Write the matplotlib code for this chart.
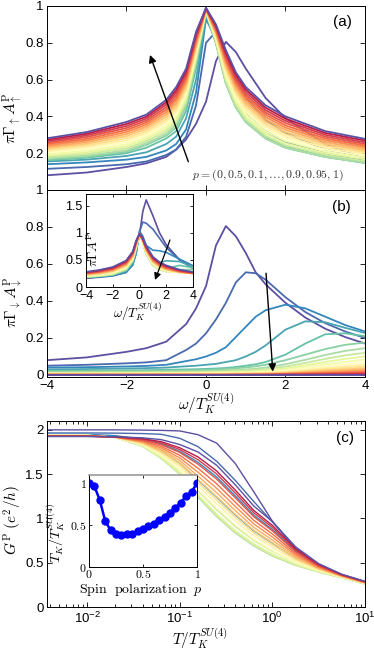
import numpy as np
import matplotlib
matplotlib.use('Agg')
import matplotlib.pyplot as plt

plt.rcParams['font.family'] = ['Liberation Sans', 'DejaVu Sans']
plt.rcParams['mathtext.fontset'] = 'cm'

# spin polarizations
P = [0, 0.05, 0.1, 0.15, 0.2, 0.25, 0.3, 0.35, 0.4, 0.45, 0.5,
     0.55, 0.6, 0.65, 0.7, 0.75, 0.8, 0.85, 0.9, 0.95, 1]

# ---- panel (a): spin-up spectral function ----
W_A = [-4, -3, -2, -1.5, -1, -0.75, -0.5, -0.25, 0, 0.25, 0.5, 0.75, 1, 1.5, 2, 3, 4]
A_UP = [
    [.08, .095, .125, .145, .18, .22, .275, .36, .48, .70, .805, .75, .66, .50, .39, .25, .17],
    [.115, .125, .14, .155, .19, .22, .29, .46, .80, .86, .72, .60, .50, .38, .31, .22, .18],
    [.14, .15, .165, .18, .215, .25, .33, .53, .93, .82, .62, .50, .42, .32, .26, .20, .16],
    [.155, .165, .185, .205, .25, .29, .39, .60, .95, .80, .59, .46, .38, .29, .24, .185, .15],
    [.162, .175, .2, .23, .28, .32, .43, .66, .96, .80, .58, .45, .37, .28, .23, .18, .147],
    [.167, .18, .208, .245, .295, .34, .455, .69, .965, .80, .58, .45, .37, .28, .23, .18, .148],
    [.172, .187, .215, .255, .305, .355, .47, .70, .97, .80, .58, .45, .37, .28, .23, .18, .148],
    [.180, .196, .226, .266, .318, .370, .483, .711, .971, .807, .593, .463, .383, .293, .242, .190, .157],
    [.188, .205, .237, .277, .331, .384, .497, .723, .973, .814, .606, .477, .397, .306, .254, .200, .167],
    [.195, .214, .248, .288, .345, .399, .511, .734, .974, .821, .619, .491, .411, .319, .266, .210, .176],
    [.203, .224, .259, .299, .358, .414, .524, .746, .976, .829, .631, .504, .424, .331, .279, .220, .185],
    [.211, .233, .270, .310, .371, .428, .538, .757, .977, .836, .644, .518, .438, .344, .291, .230, .194],
    [.219, .242, .281, .321, .384, .443, .552, .769, .979, .843, .657, .532, .452, .357, .303, .240, .204],
    [.227, .251, .293, .333, .398, .458, .565, .780, .980, .850, .670, .545, .465, .370, .315, .250, .213],
    [.234, .260, .304, .344, .411, .472, .578, .791, .981, .857, .683, .558, .478, .383, .327, .260, .222],
    [.242, .269, .315, .355, .424, .487, .592, .803, .983, .864, .696, .572, .492, .396, .339, .270, .232],
    [.250, .278, .326, .366, .437, .501, .606, .814, .984, .871, .709, .586, .506, .409, .351, .280, .241],
    [.258, .288, .337, .377, .450, .516, .619, .826, .986, .879, .721, .599, .519, .421, .364, .290, .250],
    [.265, .297, .348, .388, .464, .531, .633, .837, .987, .886, .734, .613, .533, .434, .376, .300, .259],
    [.273, .306, .359, .399, .477, .545, .647, .849, .989, .893, .747, .627, .547, .447, .388, .310, .269],
    [.281, .315, .37, .41, .49, .56, .66, .86, .99, .90, .76, .64, .56, .46, .40, .32, .278],
]

# ---- panel (b): spin-down spectral function ----
W_B = [-4, -3, -2, -1.5, -1, -0.5, -0.25, 0, 0.25, 0.5, 0.75, 1, 1.25, 1.5, 2, 2.5, 3, 3.5, 4]
A_DN = [
    [.08, .095, .125, .145, .18, .275, .36, .48, .70, .805, .75, .66, .555, .49, .39, .31, .25, .205, .17],
    [.05, .055, .063, .068, .08, .135, .17, .225, .30, .39, .50, .555, .55, .515, .42, .34, .28, .235, .20],
    [.04, .042, .046, .049, .055, .075, .085, .10, .12, .15, .205, .26, .315, .35, .38, .36, .315, .27, .235],
    [.03, .032, .035, .037, .04, .047, .05, .055, .06, .07, .08, .10, .125, .16, .245, .29, .285, .255, .227],
    [.022, .023, .025, .026, .028, .03, .031, .033, .035, .038, .043, .05, .058, .07, .11, .17, .22, .225, .21],
    [.018, .019, .02, .021, .022, .024, .025, .027, .029, .032, .036, .041, .047, .055, .08, .11, .14, .163, .175],
    [.014, .015, .016, .017, .018, .019, .02, .021, .022, .024, .027, .03, .034, .04, .058, .082, .108, .13, .145],
    [.011, .012, .013, .013, .014, .015, .016, .017, .018, .019, .021, .024, .027, .031, .045, .065, .087, .106, .12],
    [.009, .009, .01, .01, .011, .012, .012, .013, .014, .015, .016, .018, .021, .024, .035, .052, .07, .087, .10],
    [.007, .007, .008, .008, .009, .009, .01, .01, .011, .012, .013, .014, .016, .019, .028, .042, .057, .071, .083],
    [.006, .006, .006, .007, .007, .007, .008, .008, .009, .009, .01, .011, .013, .015, .022, .034, .046, .058, .068],
    [.005, .005, .005, .005, .006, .006, .006, .006, .007, .007, .008, .009, .01, .012, .018, .027, .037, .047, .056],
    [.004, .004, .004, .004, .005, .005, .005, .005, .005, .006, .006, .007, .008, .009, .014, .021, .03, .038, .045],
    [.003, .003, .003, .003, .004, .004, .004, .004, .004, .004, .005, .005, .006, .007, .011, .017, .024, .03, .036],
    [.002, .002, .002, .003, .003, .003, .003, .003, .003, .003, .004, .004, .005, .005, .008, .013, .018, .023, .028],
    [.002, .002, .002, .002, .002, .002, .002, .002, .002, .002, .003, .003, .003, .004, .006, .01, .013, .017, .021],
    [.001, .001, .001, .001, .001, .001, .001, .001, .001, .002, .002, .002, .002, .003, .004, .007, .009, .012, .015],
    [.001, .001, .001, .001, .001, .001, .001, .001, .001, .001, .001, .001, .002, .002, .003, .004, .006, .008, .01],
    [0, 0, 0, 0, 0, 0, 0, 0, 0, 0, .001, .001, .001, .001, .002, .003, .004, .005, .006],
    [0, 0, 0, 0, 0, 0, 0, 0, 0, 0, 0, 0, 0, 0, .001, .001, .002, .002, .003],
    [0, 0, 0, 0, 0, 0, 0, 0, 0, 0, 0, 0, 0, 0, 0, 0, 0, 0, 0],
]

# ---- inset of (b): total spectral function ----
W_C = [-4, -3, -2, -1, -0.5, -0.25, 0, 0.25, 0.5, 1, 1.5, 2, 3, 4]
A_TOT = [
    [.16, .19, .25, .36, .55, .72, .96, 1.40, 1.61, 1.32, 1.0, .78, .5, .34],
    [.165, .18, .205, .27, .43, .64, 1.03, 1.2, 1.18, 1.07, .90, .73, .50, .38],
    [.18, .192, .212, .27, .405, .615, 1.03, .94, .77, .68, .67, .64, .515, .395],
    [.185, .197, .22, .29, .437, .65, 1.005, .86, .66, .48, .45, .485, .47, .377],
    [.184, .198, .225, .308, .46, .691, .993, .835, .618, .42, .35, .34, .40, .357],
    [.185, .199, .228, .317, .479, .715, .992, .829, .612, .411, .335, .31, .32, .323],
    [.186, .202, .231, .323, .489, .72, .991, .822, .604, .40, .32, .288, .288, .293],
    [.191, .208, .239, .332, .498, .727, .988, .825, .612, .407, .324, .287, .277, .277],
    [.197, .214, .247, .342, .509, .735, .986, .828, .621, .415, .33, .289, .27, .267],
    [.202, .221, .256, .354, .52, .744, .984, .832, .631, .425, .338, .294, .267, .259],
    [.209, .23, .265, .365, .531, .754, .984, .838, .64, .435, .346, .301, .266, .253],
    [.216, .238, .275, .377, .544, .763, .983, .843, .651, .447, .356, .309, .267, .25],
    [.223, .246, .285, .389, .557, .774, .984, .848, .663, .459, .366, .317, .27, .249],
    [.23, .254, .296, .402, .569, .784, .984, .854, .674, .47, .377, .326, .274, .249],
    [.236, .262, .306, .414, .581, .794, .984, .86, .686, .482, .388, .335, .278, .25],
    [.244, .271, .317, .426, .594, .805, .985, .866, .698, .495, .40, .345, .283, .253],
    [.251, .279, .327, .438, .607, .815, .985, .872, .711, .508, .412, .355, .289, .256],
    [.259, .289, .338, .451, .62, .827, .987, .88, .722, .52, .423, .367, .296, .26],
    [.265, .297, .348, .464, .633, .837, .987, .886, .734, .534, .435, .378, .304, .265],
    [.273, .306, .359, .477, .647, .849, .989, .893, .747, .547, .447, .389, .312, .272],
    [.281, .315, .37, .49, .66, .86, .99, .90, .76, .56, .46, .40, .32, .278],
]

# ---- panel (c): conductance vs temperature ----
T = [0.0037, 0.01, 0.02, 0.04, 0.063, 0.1, 0.158, 0.251, 0.398, 0.631, 1.0, 1.78, 3.16, 5.62, 10.0]
G = [
    [2.0, 2.0, 2.0, 1.997, 1.994, 1.988, 1.945, 1.85, 1.62, 1.30, 0.97, 0.65, 0.45, 0.35, 0.28],
    [1.965, 1.965, 1.963, 1.958, 1.95, 1.905, 1.81, 1.645, 1.43, 1.19, 0.96, 0.67, 0.46, 0.355, 0.28],
    [1.95, 1.95, 1.935, 1.895, 1.842, 1.758, 1.633, 1.467, 1.255, 1.037, .875, .632, .468, .361, .283],
    [1.945, 1.944, 1.918, 1.851, 1.759, 1.626, 1.431, 1.238, 1.039, .859, .721, .549, .431, .345, .271],
    [1.938, 1.938, 1.916, 1.828, 1.709, 1.547, 1.311, 1.101, .911, .753, .63, .499, .408, .336, .264],
    [1.939, 1.939, 1.915, 1.819, 1.688, 1.513, 1.26, 1.043, .857, .708, .591, .478, .399, .332, .261],
    [1.94, 1.94, 1.915, 1.815, 1.68, 1.50, 1.24, 1.02, .835, .69, .575, .47, .395, .33, .26],
    [1.94, 1.94, 1.915, 1.816, 1.683, 1.505, 1.248, 1.029, .843, .697, .581, .473, .396, .331, .26],
    [1.939, 1.939, 1.915, 1.819, 1.688, 1.513, 1.26, 1.043, .857, .708, .591, .478, .399, .332, .261],
    [1.938, 1.938, 1.916, 1.826, 1.705, 1.54, 1.301, 1.09, .90, .744, .622, .495, .406, .335, .264],
    [1.938, 1.938, 1.916, 1.831, 1.715, 1.555, 1.324, 1.116, .925, .764, .639, .505, .411, .337, .265],
    [1.936, 1.936, 1.917, 1.839, 1.733, 1.584, 1.368, 1.165, .971, .803, .673, .523, .419, .34, .268],
    [1.935, 1.935, 1.917, 1.845, 1.747, 1.607, 1.403, 1.206, 1.009, .834, .70, .537, .425, .343, .27],
    [1.934, 1.934, 1.918, 1.852, 1.762, 1.631, 1.439, 1.246, 1.048, .866, .727, .552, .432, .346, .272],
    [1.933, 1.933, 1.918, 1.859, 1.778, 1.656, 1.477, 1.29, 1.088, .899, .756, .568, .439, .349, .274],
    [1.932, 1.932, 1.919, 1.867, 1.796, 1.684, 1.521, 1.339, 1.135, .938, .79, .586, .447, .352, .277],
    [1.93, 1.93, 1.919, 1.876, 1.814, 1.714, 1.566, 1.391, 1.184, .978, .825, .604, .456, .356, .279],
    [1.929, 1.929, 1.92, 1.884, 1.833, 1.745, 1.612, 1.443, 1.233, 1.019, .86, .623, .464, .359, .282],
    [1.928, 1.928, 1.921, 1.894, 1.854, 1.778, 1.663, 1.501, 1.287, 1.064, .899, .644, .474, .363, .285],
    [1.927, 1.927, 1.921, 1.90, 1.867, 1.798, 1.694, 1.536, 1.32, 1.09, .922, .657, .48, .366, .287],
    [1.925, 1.925, 1.922, 1.91, 1.89, 1.835, 1.75, 1.60, 1.38, 1.14, 0.965, 0.68, 0.49, 0.37, 0.29],
]

# ---- inset of (c): Kondo temperature vs polarization ----
TK = [1.0, 0.964, 0.80, 0.55, 0.44, 0.40, 0.385, 0.39, 0.40, 0.43, 0.45,
      0.49, 0.52, 0.56, 0.60, 0.65, 0.71, 0.77, 0.85, 0.90, 1.0]

cmap = plt.get_cmap('Spectral_r')
fig = plt.figure(figsize=(3.74, 6.51), dpi=100)
FW, FH = 374.0, 651.0


def rect(l, t, r, b):
    return [l / FW, (FH - b) / FH, (r - l) / FW, (b - t) / FH]


axa = fig.add_axes(rect(47, 6, 365, 190))
axb = fig.add_axes(rect(47, 190, 365, 377))
axc = fig.add_axes(rect(47, 421, 365, 607))
axbi = fig.add_axes(rect(86, 194, 193, 287))
axci = fig.add_axes(rect(89, 475, 197, 567))

TICK = dict(direction='in', top=True, right=True, length=3.5, width=0.6,
            labelsize=9.5, pad=2.5)
for ax in (axa, axb, axc, axbi, axci):
    for s in ax.spines.values():
        s.set_linewidth(0.7)
    ax.tick_params(which='both', **TICK)

# panel (a)
for i, p in enumerate(P):
    axa.plot(W_A, A_UP[i], color=cmap(p), lw=1.3, solid_joinstyle='round')
axa.set_xlim(-4, 4)
axa.set_ylim(0, 1)
axa.set_xticks([-4, -2, 0, 2, 4])
axa.set_xticklabels([])
axa.set_yticks([0.2, 0.4, 0.6, 0.8, 1.0])
axa.set_yticklabels(['0.2', '0.4', '0.6', '0.8', '1'])
axa.set_ylabel(r'$\pi\Gamma_\uparrow A^{\rm P}_\uparrow$', fontsize=11)
axa.yaxis.set_label_coords(-0.072, 0.39)
axa.text(0.93, 0.913, '(a)', transform=axa.transAxes, ha='center', va='center', fontsize=11)
axa.text(0.693, 0.08, r'$p = (0, 0.5, 0.1, \ldots, 0.9, 0.95, 1)$',
         transform=axa.transAxes, ha='center', va='center', fontsize=8.5, color='#333333')
axa.annotate('', xy=(-1.41, 0.734), xytext=(-0.445, 0.154),
             arrowprops=dict(arrowstyle='-|>', color='k', lw=1.0, mutation_scale=11,
                             shrinkA=0, shrinkB=0))

# panel (b)
for i, p in enumerate(P):
    axb.plot(W_B, A_DN[i], color=cmap(p), lw=1.3, solid_joinstyle='round')
axb.set_xlim(-4, 4)
axb.set_ylim(-0.011, 1)
axb.set_xticks([-4, -2, 0, 2, 4])
axb.set_xticklabels(['\u22124', '\u22122', '0', '2', '4'])
axb.set_yticks([0, 0.2, 0.4, 0.6, 0.8, 1.0])
axb.set_yticklabels(['0', '0.2', '0.4', '0.6', '0.8', '1'])
axb.set_ylabel(r'$\pi\Gamma_\downarrow A^{\rm P}_\downarrow$', fontsize=11)
axb.yaxis.set_label_coords(-0.072, 0.40)
axb.set_xlabel(r'$\omega/T_K^{SU(4)}$', fontsize=11)
axb.xaxis.set_label_coords(0.5, -0.075)
axb.text(0.926, 0.91, '(b)', transform=axb.transAxes, ha='center', va='center', fontsize=11)
axb.annotate('', xy=(1.68, 0.018), xytext=(1.51, 0.55),
             arrowprops=dict(arrowstyle='-|>', color='k', lw=1.0, mutation_scale=11,
                             shrinkA=0, shrinkB=0))

# inset of (b)
for i, p in enumerate(P):
    axbi.plot(W_C, A_TOT[i], color=cmap(p), lw=1.2, solid_joinstyle='round')
axbi.set_xlim(-4, 4)
axbi.set_ylim(0, 1.72)
axbi.set_xticks([-4, -2, 0, 2, 4])
axbi.set_xticklabels(['\u22124', '\u22122', '0', '2', '4'])
axbi.set_yticks([0, 0.5, 1, 1.5])
axbi.set_yticklabels(['0', '0.5', '1', '1.5'])
axbi.tick_params(labelsize=9, length=2.5)
axbi.set_ylabel(r'$\pi\Gamma A^{\rm P}$', fontsize=9.5)
axbi.yaxis.set_label_coords(0.14, 0.40)
axbi.set_xlabel(r'$\omega/T_K^{SU(4)}$', fontsize=9.5)
axbi.xaxis.set_label_coords(0.48, -0.15)
axbi.annotate('', xy=(1.16, 0.13), xytext=(2.28, 0.87),
              arrowprops=dict(arrowstyle='-|>', color='k', lw=0.9, mutation_scale=10,
                              shrinkA=0, shrinkB=0))

# panel (c)
for i, p in enumerate(P):
    axc.plot(T, G[i], color=cmap(p), lw=1.0, solid_joinstyle='round')
axc.set_xscale('log')
axc.set_xlim(0.0037, 10)
axc.set_ylim(0, 2.1)
axc.set_yticks([0, 0.5, 1, 1.5, 2])
axc.set_yticklabels(['0', '0.5', '1', '1.5', '2'])
axc.set_xticks([0.01, 0.1, 1, 10])
axc.tick_params(which='minor', length=2)
axc.set_ylabel(r'$G^{\rm P}\ (e^2/h)$', fontsize=11)
axc.yaxis.set_label_coords(-0.072, 0.47)
axc.set_xlabel(r'$T/T_K^{SU(4)}$', fontsize=11)
axc.xaxis.set_label_coords(0.48, -0.1)
axc.text(0.937, 0.909, '(c)', transform=axc.transAxes, ha='center', va='center', fontsize=11)

# inset of (c)
axci.plot(P, TK, '-o', color='#0000ff', lw=1.8, ms=5)
axci.set_xlim(0, 1)
axci.set_ylim(0, 1.1)
axci.set_xticks([0, 0.5, 1])
axci.set_xticklabels(['$0$', '$0.5$', '$1$'])
axci.set_yticks([0, 0.5, 1])
axci.set_yticklabels(['$0$', '$0.5$', '$1$'])
axci.tick_params(labelsize=8.5, length=2.5, pad=1.5)
axci.spines['top'].set_color('#999999')
axci.spines['top'].set_linewidth(1.2)
axci.set_ylabel(r'$T_K/T_K^{SU(4)}$', fontsize=10)
axci.yaxis.set_label_coords(-0.2, 0.37)
axci.set_xlabel(r'$\mathrm{Spin\ \ polarization}\ \ p$', fontsize=10)
axci.xaxis.set_label_coords(0.48, -0.15)

fig.savefig('out.png', dpi=100)
